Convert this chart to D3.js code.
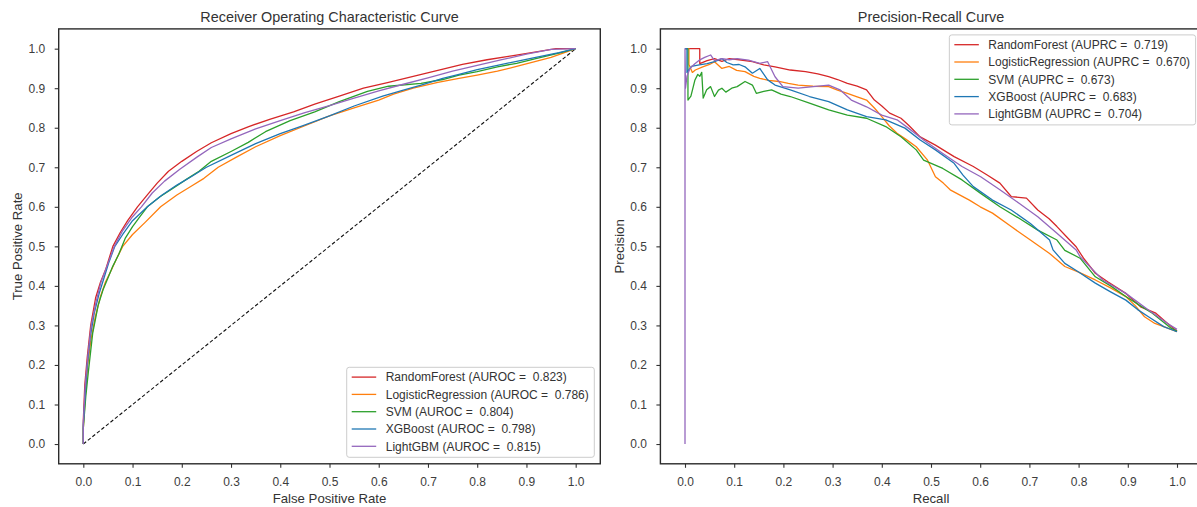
<!DOCTYPE html>
<html><head><meta charset="utf-8">
<script src="https://cdn.jsdelivr.net/npm/d3@7"></script>
<style>
body{margin:0;background:#fff;overflow:hidden}
text{font-family:"Liberation Sans",Arial,sans-serif}
</style>
</head><body>
<svg id="c" width="1197" height="507"></svg>
<script>
// ---------------- data ----------------
const models = ["RandomForest","LogisticRegression","SVM","XGBoost","LightGBM"];
const colors = ["#d62728","#ff7f0e","#2ca02c","#1f77b4","#9467bd"];
const auroc = ["0.823","0.786","0.804","0.798","0.815"];
const auprc = ["0.719","0.670","0.673","0.683","0.704"];
const tickValues = [0,0.1,0.2,0.3,0.4,0.5,0.6,0.7,0.8,0.9,1.0];
const tickLabels = ["0.0","0.1","0.2","0.3","0.4","0.5","0.6","0.7","0.8","0.9","1.0"];

// ROC curves [fpr, tpr]
const rocRF = [[0,0],[0,0.06],[0.003,0.15],[0.008,0.22],[0.015,0.3],[0.025,0.37],[0.035,0.41],[0.045,0.44],[0.06,0.5],[0.075,0.535],[0.09,0.565],[0.11,0.6],[0.13,0.63],[0.15,0.66],[0.173,0.69],[0.2,0.715],[0.23,0.74],[0.26,0.762],[0.3,0.785],[0.336,0.803],[0.38,0.822],[0.427,0.84],[0.47,0.86],[0.52,0.88],[0.569,0.9],[0.62,0.915],[0.67,0.93],[0.72,0.945],[0.77,0.96],[0.82,0.972],[0.87,0.982],[0.92,0.992],[0.96,1.0],[1,1]];
const rocLR = [[0,0],[0,0.04],[0.004,0.12],[0.009,0.2],[0.015,0.26],[0.024,0.32],[0.034,0.37],[0.045,0.41],[0.057,0.44],[0.068,0.47],[0.08,0.5],[0.1,0.53],[0.125,0.56],[0.157,0.6],[0.19,0.63],[0.219,0.652],[0.245,0.672],[0.274,0.7],[0.31,0.725],[0.35,0.752],[0.4,0.78],[0.45,0.805],[0.5,0.83],[0.55,0.85],[0.6,0.87],[0.63,0.885],[0.67,0.9],[0.72,0.915],[0.763,0.925],[0.8,0.933],[0.841,0.943],[0.88,0.955],[0.919,0.968],[0.95,0.978],[0.973,0.988],[1,1]];
const rocSVM = [[0,0],[0,0.04],[0.005,0.12],[0.01,0.18],[0.019,0.28],[0.03,0.35],[0.04,0.39],[0.05,0.42],[0.06,0.45],[0.072,0.48],[0.085,0.52],[0.1,0.55],[0.115,0.575],[0.13,0.6],[0.155,0.625],[0.18,0.645],[0.21,0.67],[0.235,0.69],[0.26,0.715],[0.3,0.74],[0.335,0.763],[0.37,0.79],[0.42,0.818],[0.47,0.84],[0.52,0.866],[0.577,0.892],[0.62,0.905],[0.686,0.912],[0.73,0.922],[0.763,0.933],[0.8,0.942],[0.841,0.954],[0.88,0.963],[0.919,0.975],[0.97,0.99],[1,1]];
const rocXGB = [[0,0],[0,0.05],[0.004,0.13],[0.008,0.2],[0.014,0.27],[0.022,0.33],[0.032,0.38],[0.042,0.42],[0.052,0.46],[0.064,0.5],[0.08,0.53],[0.1,0.565],[0.13,0.6],[0.16,0.63],[0.19,0.655],[0.219,0.676],[0.25,0.7],[0.3,0.73],[0.35,0.76],[0.4,0.785],[0.445,0.805],[0.5,0.83],[0.55,0.855],[0.608,0.88],[0.65,0.895],[0.686,0.908],[0.73,0.925],[0.763,0.935],[0.8,0.947],[0.841,0.958],[0.88,0.968],[0.919,0.978],[0.966,0.99],[1,1]];
const rocLGBM = [[0,0],[0,0.05],[0.004,0.15],[0.009,0.22],[0.016,0.3],[0.026,0.36],[0.036,0.41],[0.048,0.45],[0.063,0.5],[0.08,0.54],[0.1,0.575],[0.118,0.6],[0.14,0.635],[0.165,0.665],[0.196,0.695],[0.23,0.725],[0.26,0.75],[0.3,0.772],[0.35,0.797],[0.4,0.818],[0.45,0.838],[0.5,0.856],[0.55,0.875],[0.6,0.893],[0.65,0.91],[0.7,0.926],[0.75,0.943],[0.8,0.958],[0.85,0.972],[0.9,0.986],[0.95,0.998],[1,1]];
const rocDiag = [[0,0],[1,1]];

// Precision-recall curves [recall, precision]
const prRF = [[0,1],[0.03,1],[0.03,0.962],[0.045,0.97],[0.06,0.975],[0.075,0.968],[0.09,0.975],[0.11,0.972],[0.137,0.967],[0.16,0.959],[0.183,0.954],[0.214,0.946],[0.245,0.942],[0.27,0.936],[0.292,0.929],[0.31,0.922],[0.33,0.912],[0.35,0.905],[0.369,0.896],[0.385,0.87],[0.4,0.855],[0.416,0.837],[0.439,0.824],[0.454,0.807],[0.478,0.777],[0.509,0.756],[0.547,0.727],[0.586,0.702],[0.615,0.68],[0.64,0.66],[0.663,0.626],[0.694,0.622],[0.717,0.592],[0.74,0.57],[0.756,0.55],[0.775,0.525],[0.795,0.499],[0.81,0.47],[0.834,0.432],[0.86,0.41],[0.896,0.381],[0.926,0.347],[0.957,0.331],[0.981,0.305],[1,0.285]];
const prLR = [[0,1],[0.008,1],[0.008,0.96],[0.015,0.94],[0.021,0.946],[0.036,0.954],[0.05,0.96],[0.06,0.967],[0.075,0.95],[0.09,0.955],[0.105,0.945],[0.122,0.942],[0.14,0.93],[0.152,0.925],[0.17,0.92],[0.191,0.917],[0.21,0.912],[0.23,0.908],[0.26,0.905],[0.292,0.904],[0.31,0.895],[0.33,0.887],[0.35,0.878],[0.369,0.87],[0.385,0.85],[0.4,0.828],[0.415,0.805],[0.431,0.786],[0.45,0.77],[0.47,0.752],[0.493,0.718],[0.509,0.676],[0.525,0.66],[0.539,0.643],[0.578,0.617],[0.6,0.6],[0.625,0.584],[0.663,0.55],[0.702,0.516],[0.741,0.482],[0.772,0.449],[0.8,0.435],[0.834,0.415],[0.865,0.395],[0.896,0.373],[0.915,0.35],[0.934,0.322],[0.955,0.305],[0.973,0.297],[1,0.284]];
const prSVM = [[0,1],[0.006,1],[0.006,0.87],[0.012,0.88],[0.02,0.92],[0.026,0.935],[0.03,0.93],[0.034,0.94],[0.037,0.875],[0.044,0.896],[0.052,0.904],[0.06,0.879],[0.068,0.895],[0.075,0.9],[0.083,0.89],[0.095,0.9],[0.106,0.904],[0.122,0.917],[0.137,0.908],[0.145,0.887],[0.16,0.892],[0.176,0.896],[0.195,0.885],[0.214,0.879],[0.253,0.862],[0.292,0.845],[0.33,0.832],[0.369,0.824],[0.408,0.803],[0.439,0.777],[0.47,0.744],[0.485,0.718],[0.524,0.697],[0.563,0.668],[0.601,0.634],[0.64,0.6],[0.679,0.571],[0.717,0.541],[0.756,0.516],[0.772,0.49],[0.803,0.47],[0.834,0.423],[0.865,0.4],[0.896,0.373],[0.925,0.35],[0.95,0.331],[0.988,0.293],[1,0.285]];
const prXGB = [[0,1],[0.004,1],[0.004,0.94],[0.013,0.955],[0.029,0.959],[0.045,0.962],[0.06,0.967],[0.075,0.975],[0.085,0.965],[0.098,0.959],[0.11,0.96],[0.122,0.954],[0.137,0.938],[0.152,0.95],[0.168,0.921],[0.183,0.908],[0.214,0.896],[0.253,0.879],[0.292,0.866],[0.33,0.845],[0.369,0.828],[0.408,0.82],[0.447,0.799],[0.478,0.769],[0.509,0.744],[0.547,0.71],[0.565,0.68],[0.586,0.651],[0.625,0.617],[0.663,0.592],[0.702,0.558],[0.741,0.516],[0.748,0.491],[0.772,0.457],[0.8,0.435],[0.834,0.407],[0.865,0.385],[0.896,0.364],[0.92,0.34],[0.942,0.322],[0.973,0.297],[1,0.284]];
const prLGBM = [[0,0],[0,1],[0.001,0.9],[0.004,0.93],[0.01,0.95],[0.02,0.962],[0.029,0.971],[0.04,0.978],[0.052,0.984],[0.06,0.97],[0.075,0.975],[0.09,0.972],[0.106,0.975],[0.129,0.971],[0.152,0.963],[0.168,0.967],[0.183,0.929],[0.199,0.904],[0.23,0.9],[0.261,0.904],[0.292,0.908],[0.315,0.896],[0.338,0.87],[0.369,0.853],[0.4,0.832],[0.431,0.82],[0.454,0.799],[0.485,0.769],[0.524,0.735],[0.563,0.702],[0.601,0.676],[0.64,0.643],[0.679,0.609],[0.717,0.575],[0.756,0.533],[0.795,0.491],[0.803,0.474],[0.849,0.415],[0.896,0.381],[0.942,0.339],[0.981,0.305],[1,0.29]];

const rocSeries = [rocRF, rocLR, rocSVM, rocXGB, rocLGBM];
const prSeries = [prRF, prLR, prSVM, prXGB, prLGBM];

// ---------------- drawing ----------------
const svg = d3.select("#c");
const FONT = '"Liberation Sans",Arial,sans-serif';
const TXT = "#3d3d3d";
const Y0 = 463.8, Y1 = 28.9;

function panel(cfg){
  const x = d3.scaleLinear().domain([-0.05,1.05]).range([cfg.left, cfg.right]);
  const y = d3.scaleLinear().domain([-0.05,1.05]).range([Y0, Y1]);
  const g = svg.append("g");
  const clipId = "clip" + cfg.id;
  svg.append("clipPath").attr("id", clipId).append("rect")
    .attr("x", cfg.left).attr("y", Y1).attr("width", cfg.right-cfg.left).attr("height", Y0-Y1);

  // axes
  const xa = g.append("g").attr("transform", `translate(0,${Y0})`)
    .call(d3.axisBottom(x).tickValues(tickValues).tickFormat((d,i)=>tickLabels[i]).tickSize(4).tickPadding(10));
  const ya = g.append("g").attr("transform", `translate(${cfg.left},0)`)
    .call(d3.axisLeft(y).tickValues(tickValues).tickFormat((d,i)=>tickLabels[i]).tickSize(4).tickPadding(9.5));
  [xa,ya].forEach(a=>{
    a.select(".domain").remove();
    a.selectAll(".tick line").attr("stroke","#333").attr("stroke-width",1.1);
    a.selectAll(".tick text").attr("fill",TXT).style("font-size","12px").style("font-family",FONT);
  });
  xa.selectAll(".tick text").attr("dy","0.71em");

  const lines = g.append("g").attr("clip-path", `url(#${clipId})`);
  const line = d3.line().x(d=>x(d[0])).y(d=>y(d[1]));
  if (cfg.diag) {
    lines.append("path").datum(cfg.diag).attr("d", line).attr("fill","none")
      .attr("stroke","#111").attr("stroke-width",1.1).attr("stroke-dasharray","3.6,2.2");
  }
  cfg.series.forEach((s,i)=>{
    lines.append("path").datum(s).attr("d", line).attr("fill","none")
      .attr("stroke", colors[i]).attr("stroke-width",1.3).attr("stroke-linejoin","round");
  });

  // frame
  g.append("rect").attr("x", cfg.left).attr("y", Y1).attr("width", cfg.right-cfg.left).attr("height", Y0-Y1)
    .attr("fill","none").attr("stroke","#2b2b2b").attr("stroke-width",1.4);

  // title & labels
  g.append("text").attr("x",(cfg.left+cfg.right)/2).attr("y",21.9).attr("text-anchor","middle")
    .attr("fill","#333").style("font-size","14.4px").text(cfg.title);
  g.append("text").attr("x",(cfg.left+cfg.right)/2).attr("y",502.7).attr("text-anchor","middle")
    .attr("fill","#333").style("font-size","13.2px").text(cfg.xlabel);
  g.append("text").attr("transform",`translate(${cfg.ylabX},${(Y0+Y1)/2}) rotate(-90)`)
    .attr("text-anchor","middle").attr("fill","#333").style("font-size","13.2px").text(cfg.ylabel);

  // legend
  const lg = g.append("g");
  const rowH = 17.3;
  const texts = models.map((m,i)=>`${m} (${cfg.metric} =  ${cfg.values[i]})`);
  const tg = lg.append("g");
  const tnodes = texts.map((t,i)=> tg.append("text").attr("x",0).attr("y",i*rowH).attr("dy","0.35em")
      .attr("fill","#333").style("font-size","12px").style("white-space","pre").text(t));
  const maxW = d3.max(tnodes, n=>n.node().getComputedTextLength());
  const boxW = 39 + maxW + 5.5;
  const boxH = 90;
  let bx, by;
  if (cfg.legendPos === "lower right") { bx = cfg.right - 6 - boxW; by = Y0 - 6.5 - boxH; }
  else { bx = cfg.right - 6 - boxW; by = Y1 + 6; }
  lg.insert("rect", ":first-child").attr("x",bx).attr("y",by).attr("width",boxW).attr("height",boxH)
    .attr("rx",2.5).attr("fill","rgba(255,255,255,0.85)").attr("stroke","#cccccc").attr("stroke-width",1);
  const firstY = by + 9.8;
  tnodes.forEach((n,i)=> n.attr("x", bx+39).attr("y", firstY + i*rowH));
  models.forEach((m,i)=>{
    lg.append("line").attr("x1",bx+5).attr("x2",bx+29.5).attr("y1",firstY+i*rowH).attr("y2",firstY+i*rowH)
      .attr("stroke",colors[i]).attr("stroke-width",1.3);
  });
}

panel({id:"roc", left:58.7, right:600.3, series:rocSeries, diag:rocDiag,
  title:"Receiver Operating Characteristic Curve", xlabel:"False Positive Rate", ylabel:"True Positive Rate",
  ylabX:22, metric:"AUROC", values:auroc, legendPos:"lower right"});
panel({id:"pr", left:660.4, right:1201.6, series:prSeries, diag:null,
  title:"Precision-Recall Curve", xlabel:"Recall", ylabel:"Precision",
  ylabX:624, metric:"AUPRC", values:auprc, legendPos:"upper right"});
</script>
</body></html>
